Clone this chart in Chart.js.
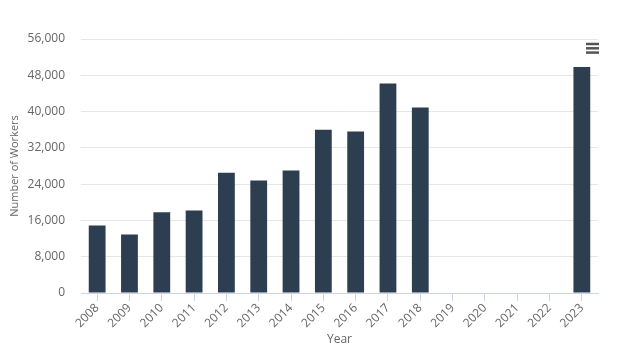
<!DOCTYPE html>
<html>
<head>
<meta charset="utf-8">
<script src="https://cdn.jsdelivr.net/npm/chart.js@4"></script>
<style>
  html, body { margin: 0; padding: 0; background: #fff; }
  #wrap { position: relative; width: 620px; height: 354px; }
</style>
</head>
<body>
<div id="wrap"><canvas id="chart"></canvas></div>
<script>
// years on the x axis
const years = ["2008", "2009", "2010", "2011", "2012", "2013", "2014", "2015",
               "2016", "2017", "2018", "2019", "2020", "2021", "2022", "2023"];
// number of workers per year (null = no bar)
const workers = [14900, 12900, 17800, 18200, 26500, 24800, 27000, 36000,
                 35600, 46200, 40900, null, null, null, null, 49800];
// y axis range
const yMax = 56000;
const yStep = 8000;

const grey = "#666666";
const font = "'Open Sans', sans-serif";

// little hamburger menu in the top right corner
const menuIcon = {
    id: "menuIcon",
    afterDraw(chart) {
        const ctx = chart.ctx;
        ctx.save();
        ctx.strokeStyle = "#555";
        ctx.lineWidth = 2.5;
        [44, 48.3, 52.6].forEach((y) => {
            ctx.beginPath();
            ctx.moveTo(586, y);
            ctx.lineTo(599, y);
            ctx.stroke();
        });
        ctx.restore();
    }
};

new Chart(document.getElementById("chart"), {
    type: "bar",
    data: {
        labels: years,
        datasets: [
            {
                label: "Workers",
                data: workers,
                backgroundColor: "#2c3e50",
                barPercentage: 0.52,
                categoryPercentage: 1
            }
        ]
    },
    options: {
        responsive: true,
        maintainAspectRatio: false,
        animation: false,
        layout: { padding: { left: 8, right: 22, top: 39, bottom: 7 } },
        plugins: {
            legend: { display: false },
            tooltip: { enabled: false }
        },
        scales: {
            x: {
                grid: {
                    offset: false,
                    drawOnChartArea: false,
                    drawTicks: true,
                    tickLength: 8,
                    color: "#ccd6eb"
                },
                border: { color: "#ccd6eb" },
                ticks: {
                    color: grey,
                    font: { family: font, size: 12 },
                    minRotation: 45,
                    maxRotation: 45,
                    padding: 0
                },
                title: {
                    display: true,
                    text: "Year",
                    color: grey,
                    font: { family: font, size: 12 },
                    padding: { top: 2, bottom: 0 }
                }
            },
            y: {
                min: 0,
                max: yMax,
                grid: { color: "#e6e6e6", drawTicks: false },
                border: { display: false },
                afterFit: (scale) => { scale.width = 73; },
                ticks: {
                    stepSize: yStep,
                    color: grey,
                    font: { family: font, size: 12 },
                    padding: 16,
                    callback: (v) => v.toLocaleString("en-US")
                },
                title: {
                    display: true,
                    text: "Number of Workers",
                    color: grey,
                    font: { family: font, size: 11 },
                    padding: { top: 0, bottom: 2 }
                }
            }
        }
    },
    plugins: [menuIcon]
});
</script>
</body>
</html>
